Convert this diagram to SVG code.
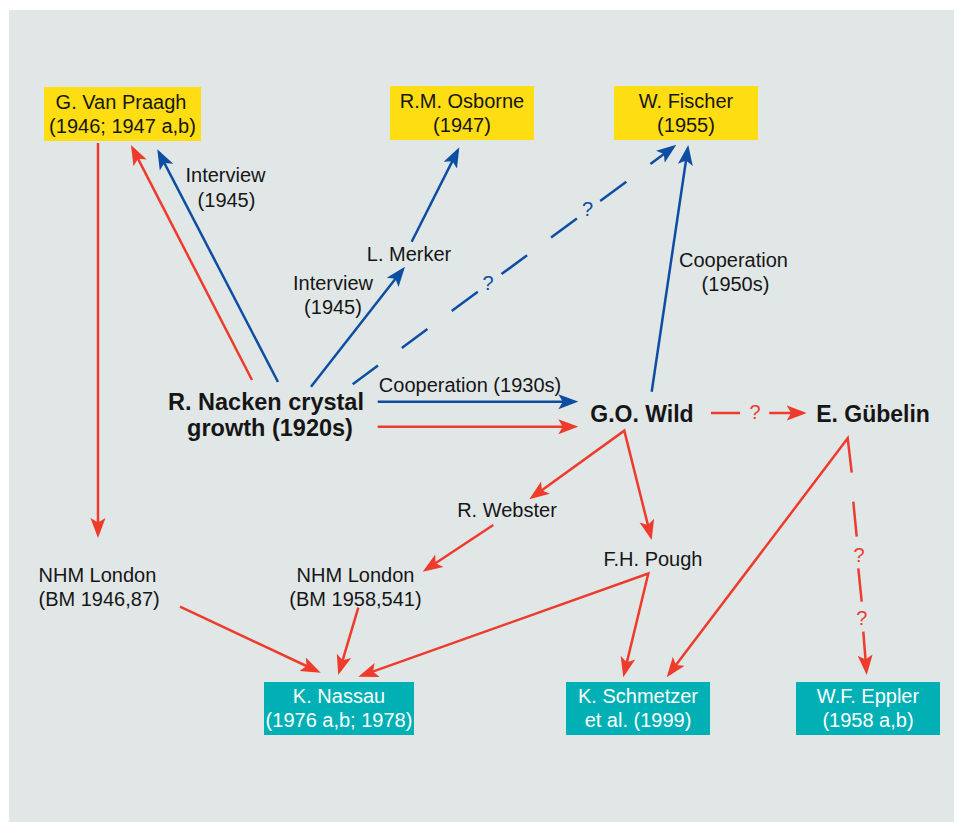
<svg xmlns="http://www.w3.org/2000/svg" width="954" height="822" viewBox="0 0 954 822">
<style>
.t{font-family:"Liberation Sans",Arial,Helvetica,sans-serif;font-size:20px;fill:#161616;text-anchor:middle}
.b{font-weight:bold;font-size:23px}
.bl{font-weight:bold;font-size:23.5px}
.w{fill:#ffffff}
.qb{fill:#0d4ea3}
.qr{fill:#ee3b2b}
.yb{fill:#fedd12}
.tb{fill:#00b0b5}
.cb{fill:none;stroke:#0d4ea3;stroke-width:2.5}
.cr{fill:none;stroke:#ee3b2b;stroke-width:2.5}
.ab{marker-end:url(#ahb)}
.ar{marker-end:url(#ahr)}
.as{marker-start:url(#ahr)}
</style>
<defs>
<marker id="ahb" viewBox="0 0 20 16" refX="16" refY="8" markerWidth="20" markerHeight="16" markerUnits="userSpaceOnUse" orient="auto-start-reverse"><path d="M0,0.5 L20,8 L0,15.5 L4.5,8 Z" fill="#0d4ea3"/></marker>
<marker id="ahr" viewBox="0 0 20 16" refX="16" refY="8" markerWidth="20" markerHeight="16" markerUnits="userSpaceOnUse" orient="auto-start-reverse"><path d="M0,0.5 L20,8 L0,15.5 L4.5,8 Z" fill="#ee3b2b"/></marker>
</defs>
<rect x="0" y="0" width="954" height="822" fill="#ffffff"/>
<rect x="9" y="10" width="945" height="812" fill="#e1e7e7"/>

<g id="connectors">
<path id="c-nacken-vanpraagh-blue" class="cb ab" d="M278,382 L159.1,152.9"/>
<path id="c-nacken-vanpraagh-red" class="cr ar" d="M252,380 L132.8,148.6"/>
<path id="c-vanpraagh-nhm1" class="cr ar" d="M98,143 L98,534"/>
<path id="c-nacken-merker" class="cb ab" d="M311,386.7 L402.5,269.8"/>
<path id="c-merker-osborne" class="cb ab" d="M411.7,241.7 L457.5,150.9"/>
<path id="c-nacken-fischer" class="cb ab" d="M352.7,384.3 L378,365.5 M401.8,348 L427.4,329 M451.7,311.1 L477.8,291.7 M501.5,274.1 L527.1,255.3 M551.1,237.4 L576.9,218.4 M600.2,201.1 L626.3,181.8 M650.4,164 L673.1,147.2"/>
<path id="c-nacken-wild-blue" class="cb ab" d="M377.7,401.7 L574.3,401.7"/>
<path id="c-nacken-wild-red" class="cr ar" d="M377.7,426.7 L574.3,426.7"/>
<path id="c-wild-fischer" class="cb ab" d="M651.7,391.7 L687.7,149"/>
<path id="c-wild-guebelin" class="cr ar" d="M711,413 L740,413 M769.3,413 L802.7,413"/>
<path id="c-wild-webster-pough" class="cr ar as" d="M532.5,497 L624.3,430.7 L650.7,536.1"/>
<path id="c-webster-nhm2" class="cr ar" d="M493.3,525 L426,569.5"/>
<path id="c-pough-nassau-schmetzer" class="cr ar as" d="M362.1,675.4 L648.3,573.5 L624.2,673.4"/>
<path id="c-guebelin-schmetzer" class="cr as" d="M669.1,674.1 L847.7,438.3 L851.7,472.7"/>
<path id="c-guebelin-eppler" class="cr ar" d="M853.3,501.7 L856.7,536.7 M858.3,568.3 L861.7,601.7 M863.3,631.7 L866.4,671"/>
<path id="c-nhm1-nassau" class="cr ar" d="M180,606.7 L317.1,671"/>
<path id="c-nhm2-nassau" class="cr ar" d="M358.3,607.7 L339.4,671.2"/>
<text class="t qb" x="488" y="290">?</text>
<text class="t qb" x="587.5" y="216">?</text>
<text class="t qr" x="755" y="419">?</text>
<text class="t qr" x="859" y="561.5">?</text>
<text class="t qr" x="861.7" y="625">?</text>
<text class="t" x="225.5" y="182">Interview</text>
<text class="t" x="226.5" y="206.5">(1945)</text>
<text class="t" x="333" y="290">Interview</text>
<text class="t" x="333" y="313.5">(1945)</text>
<text class="t" x="470" y="392">Cooperation (1930s)</text>
<text class="t" x="733.5" y="267">Cooperation</text>
<text class="t" x="735.5" y="291">(1950s)</text>
</g>

<g id="n-vanpraagh"><rect class="yb" x="44" y="87" width="157" height="54"/><text class="t" x="121" y="109">G. Van Praagh</text><text class="t" x="122.5" y="133">(1946; 1947 a,b)</text></g>
<g id="n-osborne"><rect class="yb" x="390" y="86" width="144" height="54"/><text class="t" x="462" y="108">R.M. Osborne</text><text class="t" x="462" y="132">(1947)</text></g>
<g id="n-fischer"><rect class="yb" x="614" y="86" width="144" height="54"/><text class="t" x="686" y="108">W. Fischer</text><text class="t" x="686" y="132">(1955)</text></g>
<g id="n-merker"><text class="t" x="409" y="261">L. Merker</text></g>
<g id="n-nacken"><text class="t bl" x="266" y="410">R. Nacken crystal</text><text class="t bl" x="270" y="436">growth (1920s)</text></g>
<g id="n-wild"><text class="t b" x="642" y="422">G.O. Wild</text></g>
<g id="n-guebelin"><text class="t b" x="873" y="422">E. Gübelin</text></g>
<g id="n-webster"><text class="t" x="507" y="517">R. Webster</text></g>
<g id="n-pough"><text class="t" x="653" y="566">F.H. Pough</text></g>
<g id="n-nhm1"><text class="t" x="38.5" y="582" style="text-anchor:start">NHM London</text><text class="t" x="38.5" y="605.5" style="text-anchor:start">(BM 1946,87)</text></g>
<g id="n-nhm2"><text class="t" x="355.5" y="582">NHM London</text><text class="t" x="355.5" y="605.5">(BM 1958,541)</text></g>
<g id="n-nassau"><rect class="tb" x="264" y="682" width="150" height="53"/><text class="t w" x="339" y="703">K. Nassau</text><text class="t w" x="339" y="726.5">(1976 a,b; 1978)</text></g>
<g id="n-schmetzer"><rect class="tb" x="566" y="682" width="144" height="53"/><text class="t w" x="638" y="703">K. Schmetzer</text><text class="t w" x="638" y="726.5">et al. (1999)</text></g>
<g id="n-eppler"><rect class="tb" x="796" y="682" width="144" height="53"/><text class="t w" x="868" y="703">W.F. Eppler</text><text class="t w" x="868" y="726.5">(1958 a,b)</text></g>
</svg>
